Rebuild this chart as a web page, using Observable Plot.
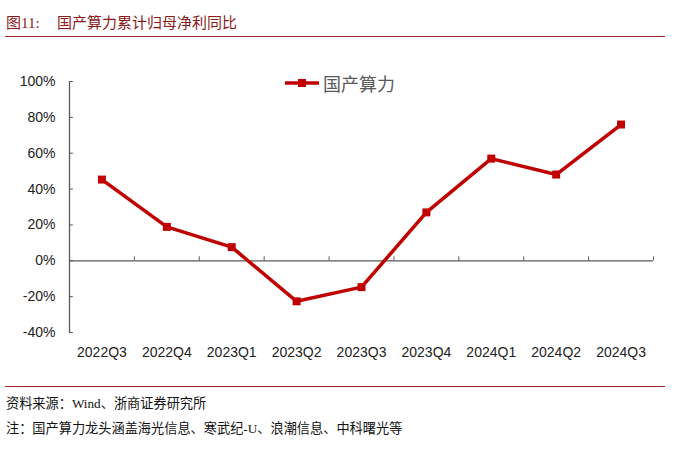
<!DOCTYPE html>
<html>
<head>
<meta charset="utf-8">
<script src="https://cdn.jsdelivr.net/npm/d3@7"></script>
<script src="https://cdn.jsdelivr.net/npm/@observablehq/plot@0.6"></script>
<style>
  html, body { margin: 0; padding: 0; background: #fff; }
  #wrap { position: relative; width: 676px; height: 456px; overflow: hidden; background: #fff; }
  .cjk { font-family: "Liberation Serif", "Noto Sans CJK SC", serif; }
  #title { position: absolute; left: 6px; top: 11px; font-size: 15px; color: #8b1a1a; white-space: pre; }
  #title b { font-weight: normal; position: absolute; left: 51px; top: 0; }
  .hr { position: absolute; left: 5px; width: 660px; height: 1px; background: #9c2a2a; }
  #src { position: absolute; left: 6px; top: 393px; font-size: 13.2px; color: #111; white-space: pre; }
  #note { position: absolute; left: 6px; top: 418px; font-size: 13.2px; color: #111; white-space: pre; }
  #chart { position: absolute; left: 0; top: 40px; }
  #legend { position: absolute; left: 284px; top: 71px; height: 24px; display: flex; align-items: center; }
  #legend span { font-family: "Liberation Sans", "Noto Sans CJK SC", sans-serif; font-size: 18px; color: #595959; margin-left: 3px; }
</style>
</head>
<body>
<div id="wrap">
  <div id="title" class="cjk">图11:<b>国产算力累计归母净利同比</b></div>
  <div class="hr" style="top:36px"></div>
  <div id="chart"></div>
  <div id="legend"></div>
  <div class="hr" style="top:386px"></div>
  <div id="src" class="cjk">资料来源：Wind、浙商证券研究所</div>
  <div id="note" class="cjk">注：国产算力龙头涵盖海光信息、寒武纪-U、浪潮信息、中科曙光等</div>
</div>
<script>
const seriesName = "国产算力";
const categories = ["2022Q3","2022Q4","2023Q1","2023Q2","2023Q3","2023Q4","2024Q1","2024Q2","2024Q3"];
const values = [45.3, 18.9, 7.6, -22.6, -14.7, 27.0, 57.0, 48.1, 76.0];
const yTicks = [-40, -20, 0, 20, 40, 60, 80, 100];

const lineColor = "#c00000";
const axisColor = "#595959";
const boundaries = categories.map((d, i) => i + 1);
const data = categories.map((c, i) => ({cat: c, idx: i + 0.5, v: values[i]}));

const chart = Plot.plot({
  width: 676,
  height: 330,
  marginTop: 41,
  marginBottom: 38,
  marginLeft: 69,
  marginRight: 23,
  x: {domain: [0, categories.length], axis: null},
  y: {domain: [-40, 100], axis: null, label: null},
  style: {fontFamily: "'Liberation Sans', Arial, sans-serif", fontSize: "14px", color: "#222", background: "transparent"},
  marks: [
    Plot.axisY({ticks: yTicks, tickSize: 0, tickPadding: 14, tickFormat: d => d + "%", fontSize: 14, fill: "#222", label: null}),
    Plot.ruleX([0], {y1: -40, y2: 100, stroke: axisColor, strokeWidth: 1.3}),
    Plot.ruleY(yTicks, {x1: 0, x2: 0.06, stroke: axisColor, strokeWidth: 1}),
    Plot.ruleY([0], {x1: 0, x2: categories.length, stroke: axisColor, strokeWidth: 1.3}),
    Plot.ruleX(boundaries, {y1: 0, y2: 2.2, stroke: axisColor, strokeWidth: 1}),
    Plot.text(data, {x: "idx", y: () => -40, dy: 20, text: "cat", fontSize: 14, fill: "#222"}),
    Plot.line(data, {x: "idx", y: "v", stroke: lineColor, strokeWidth: 3.5}),
    Plot.dot(data, {x: "idx", y: "v", symbol: "square", r: 4.5, fill: lineColor, stroke: "none"})
  ]
});
document.getElementById("chart").appendChild(chart);

const leg = document.getElementById("legend");
leg.innerHTML = `<svg width="36" height="12"><line x1="1" y1="6" x2="35" y2="6" stroke="${lineColor}" stroke-width="3.5"/><rect x="14" y="2" width="8" height="8" fill="${lineColor}"/></svg><span>${seriesName}</span>`;
</script>
</body>
</html>
